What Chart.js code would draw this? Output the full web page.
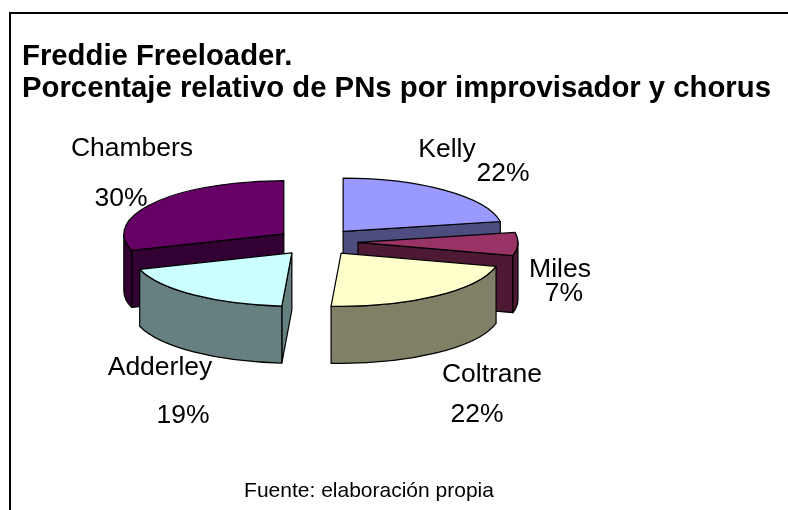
<!DOCTYPE html>
<html><head><meta charset="utf-8">
<style>html,body{margin:0;padding:0;background:#fff}#w{width:788px;height:510px;position:relative}</style>
<script src="https://cdn.jsdelivr.net/npm/chart.js@4"></script>
</head><body><div id="w"><canvas id="c"></canvas></div>
<script>
const categories = ['Kelly','Miles','Coltrane','Adderley','Chambers'];
const shares = [22,7,22,19,30];
const topColors = ['#9999FF','#993366','#FFFFCC','#CCFFFF','#660066'];
const sideColors = ['#4D4D80','#4D1933','#808066','#668080','#330033'];
const titleLines = ['Freddie Freeloader.','Porcentaje relativo de PNs por improvisador y chorus'];
const sourceNote = 'Fuente: elaboración propia';
const FONT = '"Liberation Sans", Arial, sans-serif';
const SQUASH = 1/3, DEPTH = 57, EXPLODE = 41;
// name and percent label anchors (centre x, baseline y)
const nameAnchors = [[447,157],[560,277],[492,382],[160,375],[132,156]];
const pctAnchors = [[503,181],[564,301],[477,422],[183,423],[121,206]];

const pie3d = {
  id:'pie3d',
  beforeDraw(chart){
    const c = chart.ctx;
    c.save();
    c.fillStyle='#fff'; c.fillRect(0,0,chart.width,chart.height);
    c.strokeStyle='#000'; c.lineWidth=2;
    c.beginPath(); c.moveTo(10,510); c.lineTo(10,13); c.lineTo(788,13); c.stroke();
    c.fillStyle='#000';c.textAlign='left';c.textBaseline='alphabetic';c.font='bold 29.3px '+FONT;
    c.fillText(titleLines[0],22,65);
    c.fillText(titleLines[1],22,97);
    c.restore();
  },
  beforeDatasetDraw(chart,args){
    const c = chart.ctx, arcs = args.meta.data;
    const slices = arcs.map((a,i)=>{
      const p = a.getProps(['x','y','startAngle','endAngle','outerRadius'],true);
      const mid=(p.startAngle+p.endAngle)/2, off=(a.options.offset||0)/4;
      return {i,s:p.startAngle,e:p.endAngle,R:p.outerRadius,r:p.outerRadius*SQUASH,
        x:p.x+Math.cos(mid)*off, y:p.y+Math.sin(mid)*off*SQUASH, m:Math.sin(mid)};
    }).sort((u,v)=>u.m-v.m);
    c.save();
    c.lineWidth=1.2; c.strokeStyle='#000'; c.lineJoin='round';
    for(const t of slices){
      const pt=a=>[t.x+t.R*Math.cos(a),t.y+t.r*Math.sin(a)];
      c.fillStyle=sideColors[t.i];
      const face=a=>{const q=pt(a);c.beginPath();c.moveTo(t.x,t.y);c.lineTo(q[0],q[1]);c.lineTo(q[0],q[1]+DEPTH);c.lineTo(t.x,t.y+DEPTH);c.closePath();c.fill();c.stroke();};
      if(Math.cos(t.s)<-1e-6) face(t.s);
      if(Math.cos(t.e)>1e-6) face(t.e);
      // front curved wall: the part of the rim on the near half of the ellipse
      for(const k of [0,2]){
        const a0=Math.max(t.s,k*Math.PI), a1=Math.min(t.e,k*Math.PI+Math.PI);
        if(a1>a0){
          c.beginPath();
          c.ellipse(t.x,t.y,t.R,t.r,0,a0,a1);
          c.ellipse(t.x,t.y+DEPTH,t.R,t.r,0,a1,a0,true);
          c.closePath();c.fill();c.stroke();
        }
      }
      c.fillStyle=topColors[t.i];
      c.beginPath();c.moveTo(t.x,t.y);
      c.ellipse(t.x,t.y,t.R,t.r,0,t.s,t.e);
      c.closePath();c.fill();c.stroke();
    }
    c.restore();
    return false;
  },
  afterDatasetsDraw(chart){
    const c=chart.ctx;
    c.save();
    c.fillStyle='#000';c.textAlign='center';c.textBaseline='alphabetic';c.font='26.5px '+FONT;
    const total=shares.reduce((a,b)=>a+b,0);
    categories.forEach((n,i)=>{
      c.fillText(n,nameAnchors[i][0],nameAnchors[i][1]);
      c.fillText(Math.round(shares[i]/total*100)+'%',pctAnchors[i][0],pctAnchors[i][1]);
    });
    c.font='21px '+FONT;
    c.fillText(sourceNote,369,497);
    c.restore();
  }
};

new Chart(document.getElementById('c'),{
  type:'pie',
  data:{labels:categories,datasets:[{data:shares,backgroundColor:topColors,borderColor:'#000',borderWidth:1,offset:EXPLODE*4,radius:160}]},
  plugins:[pie3d],
  options:{
    responsive:true,maintainAspectRatio:false,animation:false,
    layout:{padding:{left:0,right:154,top:0,bottom:26}},
    plugins:{legend:{display:false},tooltip:{enabled:false},title:{display:false}}
  }
});
</script></body></html>
